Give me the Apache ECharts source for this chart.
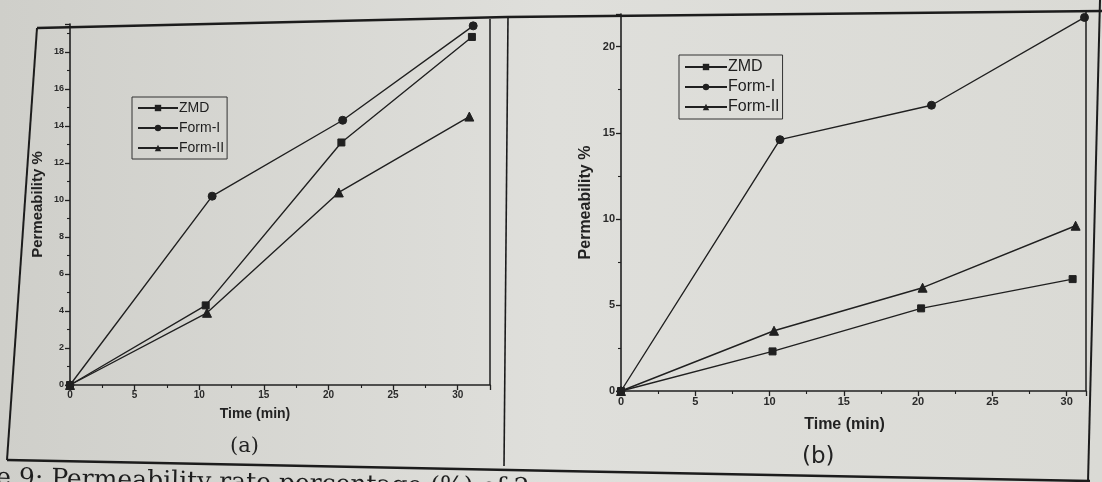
<!DOCTYPE html>
<html>
<head>
<meta charset="utf-8">
<script src="https://cdn.jsdelivr.net/npm/echarts/dist/echarts.min.js"></script>
<style>
  html, body { margin: 0; padding: 0; background: #d8d8d4; }
  #chart { width: 1102px; height: 482px; }
</style>
</head>
<body>
<div id="chart"></div>
<script>
// ---- data ----
const seriesNames = ['ZMD', 'Form-I', 'Form-II'];
const xAxisTitle = 'Time (min)';
const yAxisTitle = 'Permeability %';
const panelLabels = ['(a)', '(b)'];
const captionText = 'e 9: Permeability rate percentage (%) of 2';

// panel (a)
const aZmdTime   = [0, 10.5, 21.0, 31.1];
const aZmdPerm   = [0, 4.3, 13.1, 18.8];
const aForm1Time = [0, 11.0, 21.1, 31.2];
const aForm1Perm = [0, 10.2, 14.3, 19.4];
const aForm2Time = [0, 10.6, 20.8, 30.9];
const aForm2Perm = [0, 3.9, 10.4, 14.5];

// panel (b)
const bZmdTime   = [0, 10.2, 20.2, 30.4];
const bZmdPerm   = [0, 2.3, 4.8, 6.5];
const bForm1Time = [0, 10.7, 20.9, 31.2];
const bForm1Perm = [0, 14.6, 16.6, 21.7];
const bForm2Time = [0, 10.3, 20.3, 30.6];
const bForm2Perm = [0, 3.5, 6.0, 9.6];

// axis ranges / tick steps
const aXMax = 32.5, aXStep = 5, aYMax = 19.5, aYStep = 2;
const bXMax = 31.3, bXStep = 5, bYMax = 21.9, bYStep = 5;

// ---- build ----
const zip = (xs, ys) => xs.map((x, i) => [x, ys[i]]);
const INK = '#202020';
const symbols = ['rect', 'circle', 'triangle'];
const symSizes = [7, 8, 9];

function makeSeries(gridIdx, pairs) {
  return pairs.map((p, i) => ({
    name: seriesNames[i],
    type: 'line',
    xAxisIndex: gridIdx,
    yAxisIndex: gridIdx,
    data: zip(p[0], p[1]),
    symbol: symbols[i],
    symbolSize: symSizes[i],
    showSymbol: true,
    lineStyle: { color: INK, width: 1.4 },
    itemStyle: { color: INK, borderColor: INK },
    emphasis: { disabled: true },
    z: 3
  }));
}

function stepFormatter(step) {
  return function (v) {
    const r = Math.round(v / step) * step;
    return Math.abs(r - v) < 1e-6 ? String(r) : '';
  };
}

function xAxisCfg(gridIdx, max, step, fs, nameFs, nameGap, namePad) {
  return {
    type: 'value', gridIndex: gridIdx, min: 0, max: max, interval: step,
    name: xAxisTitle, nameLocation: 'middle', nameGap: nameGap,
    nameTextStyle: { fontFamily: 'Liberation Sans', fontWeight: 'bold', fontSize: nameFs, color: '#222', padding: namePad },
    axisLine: { show: true, lineStyle: { color: INK, width: 1.6 } },
    axisTick: { show: true, length: 5, lineStyle: { color: INK, width: 1.3 } },
    minorTick: { show: true, splitNumber: 2, length: 3, lineStyle: { color: INK, width: 1.1 } },
    axisLabel: { fontFamily: 'Liberation Sans', fontWeight: 'bold', fontSize: fs, color: '#2a2a2a', margin: 5, formatter: stepFormatter(step) },
    splitLine: { show: false }
  };
}

function yAxisCfg(gridIdx, max, step, fs, nameFs, nameGap) {
  return {
    type: 'value', gridIndex: gridIdx, min: 0, max: max, interval: step,
    name: yAxisTitle, nameLocation: 'middle', nameGap: nameGap, nameRotate: 90,
    nameTextStyle: { fontFamily: 'Liberation Sans', fontWeight: 'bold', fontSize: nameFs, color: '#222' },
    axisLine: { show: true, lineStyle: { color: INK, width: 1.6 } },
    axisTick: { show: true, length: 5, lineStyle: { color: INK, width: 1.3 } },
    minorTick: { show: true, splitNumber: 2, length: 3, lineStyle: { color: INK, width: 1.1 } },
    axisLabel: { fontFamily: 'Liberation Sans', fontWeight: 'bold', fontSize: fs, color: '#2a2a2a', margin: 6, formatter: stepFormatter(step) },
    splitLine: { show: false }
  };
}

function legendCfg(left, top, fs, gap, iw) {
  return {
    data: seriesNames, orient: 'vertical', left: left, top: top,
    itemWidth: iw, itemHeight: 8, itemGap: gap,
    borderColor: '#333', borderWidth: 1, padding: [4, 3, 4, 5],
    textStyle: { fontFamily: 'Liberation Sans', fontSize: fs, color: '#1e1e1e', padding: [0, 0, 0, -4] },
    selectedMode: false
  };
}

const line = (pts, w) => ({
  type: 'polyline', silent: true, z: 10,
  shape: { points: pts },
  style: { stroke: '#1c1c1c', lineWidth: w, fill: null }
});

const option = {
  animation: false,
  backgroundColor: {
    type: 'linear', x: 0, y: 0, x2: 1, y2: 0,
    colorStops: [
      { offset: 0, color: '#cfcfca' },
      { offset: 0.5, color: '#dfdfdb' },
      { offset: 1, color: '#dadad5' }
    ]
  },
  grid: [
    { left: 70, top: 24, width: 420, height: 361 },
    { left: 621, top: 14, width: 465, height: 377 }
  ],
  xAxis: [
    xAxisCfg(0, aXMax, aXStep, 10, 14, 22, [0, 50, 0, 0]),
    xAxisCfg(1, bXMax, bXStep, 11, 16, 26, [0, 18, 0, 0])
  ],
  yAxis: [
    yAxisCfg(0, aYMax, aYStep, 9, 15, 25),
    yAxisCfg(1, bYMax, bYStep, 11, 16, 27)
  ],
  legend: [
    legendCfg(132, 97, 14, 6, 40),
    legendCfg(679, 55, 16, 4, 42)
  ],
  series: [].concat(
    makeSeries(0, [[aZmdTime, aZmdPerm], [aForm1Time, aForm1Perm], [aForm2Time, aForm2Perm]]),
    makeSeries(1, [[bZmdTime, bZmdPerm], [bForm1Time, bForm1Perm], [bForm2Time, bForm2Perm]])
  ),
  graphic: [
    // outer page frame (photo is slightly skewed)
    line([[37, 28], [507, 17], [1102, 11]], 2.5),
    line([[37, 28], [7, 460]], 2),
    line([[7, 460], [560, 471], [1090, 481]], 2.5),
    line([[508, 17], [504, 466]], 1.6),
    line([[1100, 0], [1088, 482]], 2),
    // right edges of the plot boxes
    line([[490, 19], [490, 385]], 1.5),
    line([[1086, 12], [1086, 391]], 1.5),
    {
      type: 'text', left: 230, top: 436, silent: true,
      style: { text: panelLabels[0], font: '21px "DejaVu Serif"', fill: '#222' }
    },
    {
      type: 'text', left: 802, top: 446, silent: true,
      style: { text: panelLabels[1], font: '23px "DejaVu Sans"', fill: '#222' }
    },
    {
      type: 'text', left: -4, top: 466, rotation: -0.02, silent: true,
      style: { text: captionText, font: '25px "DejaVu Serif"', fill: '#1e1e1e' }
    }
  ]
};

const chart = echarts.init(document.getElementById('chart'), null, { renderer: 'canvas' });
chart.setOption(option);
</script>
</body>
</html>
